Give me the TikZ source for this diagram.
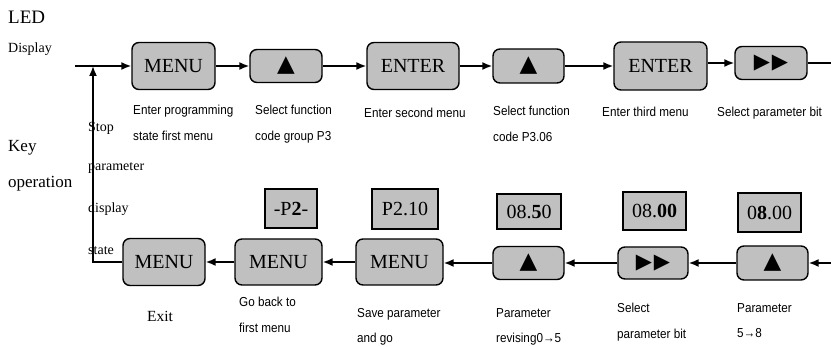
\documentclass[tikz,border=0pt]{standalone}
\usepackage{fontspec}
\setmainfont{Liberation Serif}
\newfontfamily\capfont[FakeStretch=0.9]{Liberation Sans}
\newfontfamily\symfont{DejaVu Sans}
\usepackage{tikz}
\usetikzlibrary{arrows.meta,positioning}
\definecolor{keyGray}{RGB}{192,192,192}
\newcommand{\upkey}{\raisebox{-3.5pt}{\symfont\fontsize{23}{23}\selectfont ▲}}
\newcommand{\shiftkey}{{\symfont\fontsize{21}{21}\selectfont ▶\kern2pt▶}}

\begin{document}
\begin{tikzpicture}[x=1pt,y=-1pt,
  keybox/.style={draw, line width=1.4pt, rounded corners=7pt, fill=keyGray, inner sep=0pt, font=\fontsize{20}{20}\selectfont},
  dispbox/.style={draw, line width=1.3pt, fill=keyGray, inner sep=0pt, font=\fontsize{20}{20}\selectfont},
  flow/.style={line width=1.6pt, -{Latex[length=10pt,width=8pt]}},
  capnote/.style={font=\capfont\fontsize{13}{25.5}\selectfont, align=left, inner sep=0pt, anchor=north west},
  side/.style={inner sep=0pt, anchor=base west}]
\useasboundingbox (0,0) rectangle (831,347);
\node[side, font=\fontsize{19}{19}\selectfont] (led) at (8,24) {LED};
\node[side, font=\fontsize{14}{14}\selectfont] (ledsub) at (8,53) {Display};
\node[side, font=\fontsize{17}{17}\selectfont] (key) at (8,152) {Key};
\node[side, font=\fontsize{17}{17}\selectfont] (keysub) at (8,188) {operation};
\node[side, font=\fontsize{14}{14}\selectfont] (stopA) at (88,132) {Stop};
\node[side, font=\fontsize{14}{14}\selectfont] (stopB) at (88,171) {parameter};
\node[side, font=\fontsize{14}{14}\selectfont] (stopC) at (88,213) {display};
\node[side, font=\fontsize{14}{14}\selectfont] (stopD) at (88,255) {state};

\node[keybox, minimum width=83pt, minimum height=47pt] (menuA) at (173.5,66) {MENU};
\node[keybox, minimum width=72pt, minimum height=33pt] (upA) at (286,66) {\upkey};
\node[keybox, minimum width=92pt, minimum height=47pt] (enterA) at (413,66) {ENTER};
\node[keybox, minimum width=71pt, minimum height=34pt] (upB) at (528.5,66) {\upkey};
\node[keybox, minimum width=93pt, minimum height=48pt] (enterB) at (660.5,66) {ENTER};
\node[keybox, minimum width=72pt, minimum height=33pt] (shiftA) at (771,63) {\shiftkey};
\coordinate (start) at (75,66);
\coordinate (join) at (93,66);
\coordinate (outR) at (831,63);
\draw[flow] (start) -- (menuA);
\draw[flow] (menuA) -- (upA);
\draw[flow] (upA) -- (enterA);
\draw[flow] (enterA) -- (upB);
\draw[flow] (upB) -- (enterB);
\draw[flow] (enterB.east |- shiftA.west) -- (shiftA);
\draw[line width=1.6pt] (shiftA) -- (outR);

\node[capnote] (capA) at (133,105) {Enter programming\\state first menu};
\node[capnote] (capB) at (255,105) {Select function\\code group P3};
\node[capnote] (capC) at (364,108) {Enter second menu};
\node[capnote] (capD) at (493,106) {Select function\\code P3.06};
\node[capnote] (capE) at (602,107) {Enter third menu};
\node[capnote] (capF) at (717,107) {Select parameter bit};

\node[keybox, minimum width=82pt, minimum height=47pt] (exitkey) at (164,262) {MENU};
\node[keybox, minimum width=87pt, minimum height=46pt] (backkey) at (278.5,262) {MENU};
\node[keybox, minimum width=87pt, minimum height=46pt] (savekey) at (399.5,262) {MENU};
\node[keybox, minimum width=71pt, minimum height=33pt] (upC) at (528.5,263) {\upkey};
\node[keybox, minimum width=70pt, minimum height=32pt] (shiftB) at (653,263) {\shiftkey};
\node[keybox, minimum width=71pt, minimum height=34pt] (upD) at (772.5,263) {\upkey};

\node[dispbox, minimum width=52pt, minimum height=39pt] (dispback) at (291,208.5) {-P\textbf{2}-};
\node[dispbox, minimum width=66pt, minimum height=40pt] (dispsave) at (405,209) {P2.10};
\node[dispbox, minimum width=64pt, minimum height=35pt] (dispC) at (529,211.5) {08.\textbf{5}0};
\node[dispbox, minimum width=63pt, minimum height=38pt] (dispshift) at (654.5,211) {08.\textbf{00}};
\node[dispbox, minimum width=63pt, minimum height=39pt] (dispD) at (769.5,212.5) {0\textbf{8}.00};

\coordinate (inR) at (831,263);
\coordinate (corner) at (93,262);
\draw[flow] (inR) -- (upD);
\draw[flow] (upD) -- (shiftB);
\draw[flow] (shiftB) -- (upC);
\draw[flow] (upC) -- (savekey.east |- upC.west);
\draw[flow] (savekey) -- (backkey);
\draw[flow] (backkey) -- (exitkey);
\draw[flow] (exitkey) -- (corner) -- (join);

\node[font=\fontsize{15.5}{15.5}\selectfont] (capExit) at (160,316) {Exit};
\node[capnote] (capG) at (239,297) {Go back to\\first menu};
\node[capnote] (capH) at (357,308) {Save parameter\\and go};
\node[capnote] (capI) at (496,308) {Parameter\\revising0→5};
\node[capnote] (capJ) at (617,303) {Select\\parameter bit};
\node[capnote] (capK) at (737,303) {Parameter\\5→8};
\end{tikzpicture}
\end{document}
